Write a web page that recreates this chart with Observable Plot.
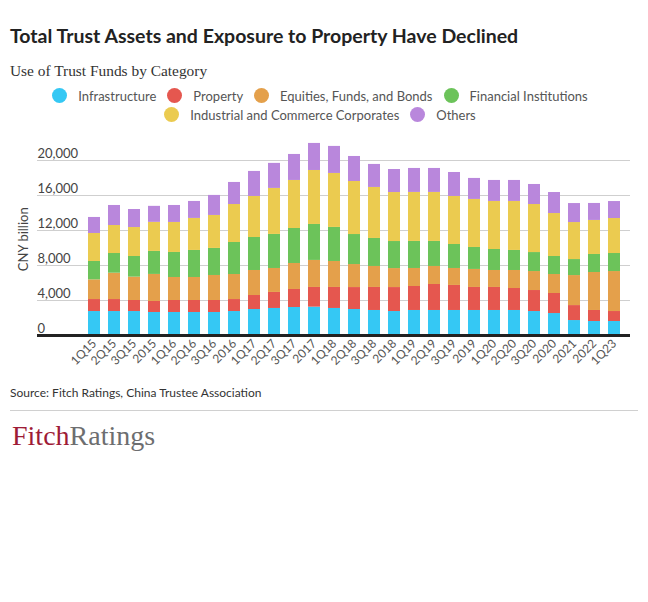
<!DOCTYPE html>
<html><head><meta charset="utf-8">
<script src="https://cdn.jsdelivr.net/npm/d3@7"></script>
<script src="https://cdn.jsdelivr.net/npm/@observablehq/plot@0.6"></script>
<style>
body{margin:0;background:#fff;font-family:Lato,sans-serif;width:648px;height:602px;position:relative;overflow:hidden}
#title{position:absolute;left:10px;top:23.5px;font-weight:700;font-size:19.5px;color:#222;white-space:nowrap}
#subtitle{position:absolute;left:10px;top:61.5px;font-family:"Liberation Serif",serif;font-size:15.4px;color:#333;white-space:nowrap}
#legend{position:absolute;left:20px;width:600px;top:86.5px;display:flex;flex-wrap:wrap;justify-content:center;row-gap:1px;column-gap:11px;font-size:13px;color:#555}
.item{display:flex;align-items:center;height:18px;white-space:nowrap}
.dot{width:15px;height:15px;border-radius:50%;margin-right:11px}
#chart{position:absolute;left:0;top:130px}
#source{position:absolute;left:10px;top:384.5px;font-size:12px;color:#333;white-space:nowrap}
#rule{position:absolute;left:10px;top:410px;width:628px;height:0;border-top:1.5px solid #d0d0d0}
#logo{position:absolute;left:12px;top:420px;font-family:"Liberation Serif",serif;font-size:28px;white-space:nowrap}
</style></head>
<body>
<div id="title">Total Trust Assets and Exposure to Property Have Declined</div>
<div id="subtitle">Use of Trust Funds by Category</div>
<div id="legend"></div>
<div id="chart"></div>
<div id="source">Source: Fitch Ratings, China Trustee Association</div>
<div id="rule"></div>
<div id="logo"><span style="color:#9e1b36">Fitch</span><span style="color:#6d6e70">Ratings</span></div>
<script>
const quarters = ["1Q15","2Q15","3Q15","2015","1Q16","2Q16","3Q16","2016","1Q17","2Q17","3Q17","2017","1Q18","2Q18","3Q18","2018","1Q19","2Q19","3Q19","2019","1Q20","2Q20","3Q20","2020","2021","2022","1Q23"];
const categories = ["Infrastructure","Property","Equities, Funds, and Bonds","Financial Institutions","Industrial and Commerce Corporates","Others"];
const infrastructure = [2740,2740,2740,2630,2630,2630,2630,2740,2970,3090,3200,3240,3090,2970,2860,2740,2860,2860,2860,2860,2860,2860,2740,2510,1710,1600,1600];
const property =       [1370,1370,1260,1260,1370,1370,1370,1370,1600,1830,2060,2250,2400,2510,2630,2740,2740,2970,2860,2630,2630,2510,2400,2290,1710,1260,1140];
const equities =       [2250,3010,2670,3090,2630,2630,2860,2860,2860,2740,2970,3090,2970,2630,2400,2170,2060,2060,1940,2060,1940,2060,2170,2170,3430,4340,4570];
const financial =      [2100,2250,2360,2630,2860,3090,3090,3660,3770,3890,4000,4110,3890,3430,3200,3090,3090,2860,2740,2510,2400,2290,2170,2060,1830,2060,2060];
const industrial =     [3200,3200,3310,3320,3430,3660,3770,4340,4690,5260,5490,6170,6170,6060,5830,5600,5600,5600,5490,5490,5490,5600,5490,4910,4230,3890,4000];
const others =         [1830,2290,2060,1830,1940,1940,2290,2520,2860,2860,2970,3090,3090,2860,2630,2630,2740,2740,2740,2400,2400,2400,2290,2400,2170,1940,1940];
const yTicks = [0,4000,8000,12000,16000,20000];
const colors = ["#35c8f4","#e5574f","#e4a04b","#6cc35a","#ebcb50","#b987dc"];

const series = [infrastructure, property, equities, financial, industrial, others];
const rows = [];
series.forEach((vals, i) => vals.forEach((v, j) => rows.push({quarter: quarters[j], category: categories[i], value: v})));

const legend = document.getElementById("legend");
categories.forEach((c, i) => {
  const it = document.createElement("div"); it.className = "item";
  const d = document.createElement("span"); d.className = "dot"; d.style.background = colors[i];
  const t = document.createElement("span"); t.textContent = c;
  it.appendChild(d); it.appendChild(t); legend.appendChild(it);
});

const chart = Plot.plot({
  width: 648, height: 250,
  marginLeft: 37, marginRight: 18, marginTop: 12.5, marginBottom: 45,
  style: {fontFamily: "Lato, sans-serif", fontSize: "12px", color: "#444", background: "transparent"},
  x: {domain: quarters, insetLeft: 47, insetRight: 6, paddingInner: 0.4, paddingOuter: 0.2, label: null},
  y: {domain: [0, 22000], label: "CNY billion"},
  color: {domain: categories, range: colors},
  marks: [
    Plot.gridY(yTicks, {stroke: "#cfcfcf", strokeOpacity: 1}),
    Plot.barY(rows, {x: "quarter", y: "value", fill: "category"}),
    Plot.ruleY([0], {stroke: "#222", strokeWidth: 3}),
    Plot.axisY(yTicks, {tickSize: 0, tickPadding: 0, textAnchor: "start", dy: -7, fontSize: 13, tickFormat: d3.format(","), label: "CNY billion", labelAnchor: "center", labelOffset: 19, labelArrow: "none"}),
    Plot.axisX({tickSize: 0, tickRotate: -45, tickPadding: 6, fontSize: 12, fill: "#555", label: null})
  ]
});
document.getElementById("chart").appendChild(chart);
</script>
</body></html>
